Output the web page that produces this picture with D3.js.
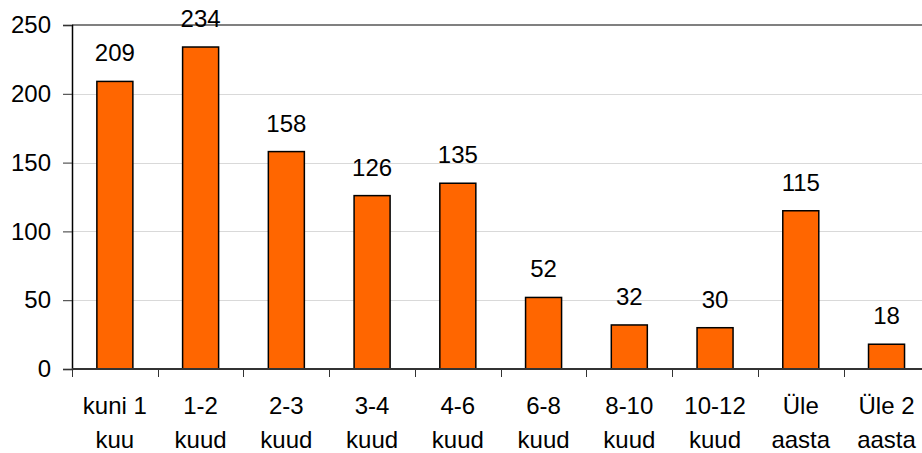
<!DOCTYPE html>
<html>
<head>
<meta charset="utf-8" />
<style>
  body { margin: 0; background: #fff; }
  svg { display: block; font-family: "Liberation Sans", Arial, sans-serif; }
  .bar { fill: #ff6600; stroke: #000; stroke-width: 1.5; }
  .grid { stroke: #d9d9d9; stroke-width: 1; }
  .lbl { font-size: 24px; fill: #000; }
</style>
</head>
<body>
<div id="chart"></div>
<script src="https://cdn.jsdelivr.net/npm/d3@7"></script>
<script>
var categories = [["kuni 1", "kuu"], ["1-2", "kuud"], ["2-3", "kuud"], ["3-4", "kuud"], ["4-6", "kuud"],
                  ["6-8", "kuud"], ["8-10", "kuud"], ["10-12", "kuud"], ["Üle", "aasta"], ["Üle 2", "aasta"]];
var values = [209, 234, 158, 126, 135, 52, 32, 30, 115, 18];
var yTicks = [0, 50, 100, 150, 200, 250];

var width = 922, height = 453;
var plotLeft = 72, plotTop = 25, plotBottom = 369;
var step = 85.74;

var svg = d3.select('#chart').append('svg')
  .attr('width', width)
  .attr('height', height);

var x = d3.scaleBand()
  .domain(d3.range(values.length))
  .range([plotLeft, plotLeft + step * values.length])
  .paddingInner(0.58)
  .paddingOuter(0.29);

var y = d3.scaleLinear().domain([0, 250]).range([plotBottom, plotTop]);

// gridlines
svg.selectAll('.grid')
  .data(yTicks.filter(function(d) { return d > 0 && d < 250; }))
  .enter().append('line')
  .attr('class', 'grid')
  .attr('x1', plotLeft).attr('x2', width)
  .attr('y1', function(d) { return Math.round(y(d)) + 0.5; })
  .attr('y2', function(d) { return Math.round(y(d)) + 0.5; });

// top border
svg.append('line')
  .attr('x1', plotLeft).attr('x2', width)
  .attr('y1', y(250)).attr('y2', y(250))
  .attr('stroke', '#808080').attr('stroke-width', 2);

// bars
svg.selectAll('.bar')
  .data(values)
  .enter().append('rect')
  .attr('class', 'bar')
  .attr('x', function(d, i) { return x(i); })
  .attr('y', function(d) { return y(d); })
  .attr('width', x.bandwidth())
  .attr('height', function(d) { return y(0) - y(d); });

// value labels
svg.selectAll('.val')
  .data(values)
  .enter().append('text')
  .attr('class', 'lbl')
  .attr('text-anchor', 'middle')
  .attr('x', function(d, i) { return x(i) + x.bandwidth() / 2; })
  .attr('y', function(d) { return y(d) - 20; })
  .text(function(d) { return d; });

// y axis
var yAxis = d3.axisLeft(y).tickValues(yTicks).tickSize(9).tickPadding(12);
var gy = svg.append('g').attr('transform', 'translate(' + plotLeft + ',0)').call(yAxis);
gy.attr('font-family', null).attr('font-size', null);
gy.select('.domain').attr('stroke', '#000').attr('stroke-width', 1.5);
gy.selectAll('.tick line').attr('stroke', '#333');
gy.selectAll('.tick text').attr('class', 'lbl');

// x axis line and ticks
svg.append('line')
  .attr('x1', plotLeft).attr('x2', width)
  .attr('y1', plotBottom).attr('y2', plotBottom)
  .attr('stroke', '#333').attr('stroke-width', 2);

svg.selectAll('.xtick')
  .data(d3.range(values.length + 1))
  .enter().append('line')
  .attr('x1', function(i) { return Math.round(plotLeft + step * i) + 0.5; })
  .attr('x2', function(i) { return Math.round(plotLeft + step * i) + 0.5; })
  .attr('y1', plotBottom).attr('y2', plotBottom + 8)
  .attr('stroke', '#333');

// category labels
var cat = svg.selectAll('.cat')
  .data(categories)
  .enter().append('text')
  .attr('class', 'lbl')
  .attr('text-anchor', 'middle');
cat.append('tspan')
  .attr('x', function(d, i) { return x(i) + x.bandwidth() / 2; })
  .attr('y', 414)
  .text(function(d) { return d[0]; });
cat.append('tspan')
  .attr('x', function(d, i) { return x(i) + x.bandwidth() / 2; })
  .attr('y', 448)
  .text(function(d) { return d[1]; });
</script>
</body>
</html>
